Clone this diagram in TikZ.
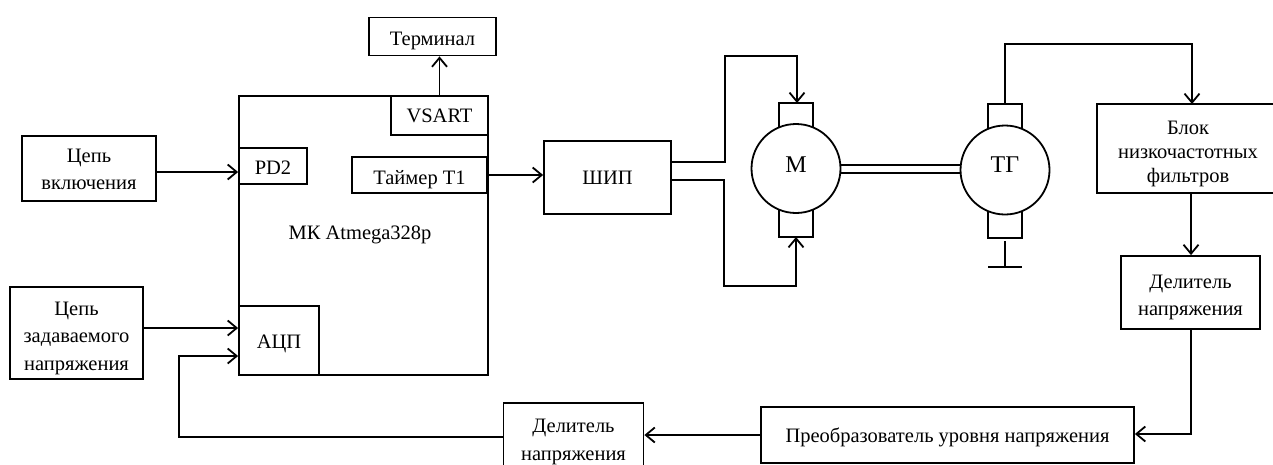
\documentclass[tikz,border=0pt]{standalone}
\usepackage{fontspec}
\setmainfont{Liberation Serif}
\usetikzlibrary{arrows.meta}
\tikzset{
  x=1pt,y=-1pt,
  blk/.style={draw,line width=1.8pt,minimum width=0pt,minimum height=0pt,inner sep=0pt,align=center,font=\fontsize{20.5}{27.5}\selectfont},
  wire/.style={line width=1.8pt},
  arr/.style={wire,-{Straight Barb[length=9pt,width=15pt,line width=1.8pt]}},
}
\newcommand{\lowered}[2]{\raisebox{-#1pt}[\height][\depth]{\begin{tabular}{@{}c@{}}#2\end{tabular}}}
\begin{document}
\begin{tikzpicture}
\useasboundingbox[clip] (0,0) rectangle (1273,464);
% main controller
\node[blk,minimum width=249pt,minimum height=279pt] (mk) at (363.5,235.5) {};
\node[font=\fontsize{20.5}{24}\selectfont] (mkl) at (360,235) {МК Atmega328p};
\node[blk,minimum width=97pt,minimum height=39pt] (vsart) at (439.5,115.5) {VSART};
\node[blk,minimum width=68pt,minimum height=36pt] (pd) at (273,166) {\lowered{3}{PD2}};
\node[blk,minimum width=135pt,minimum height=36pt] (tim) at (419.5,175) {\lowered{4}{Таймер Т1}};
\node[blk,minimum width=80pt,minimum height=69pt] (adc) at (279,340.5) {\lowered{2}{АЦП}};
\node[blk,minimum width=127pt,minimum height=38pt] (term) at (432.5,36.5) {\lowered{3}{Терминал}};
\node[blk,minimum width=134pt,minimum height=65pt] (en) at (89,168.5) {\lowered{2}{Цепь\\включения}};
\node[blk,minimum width=133pt,minimum height=92pt] (set) at (76.5,333) {\lowered{4}{Цепь\\задаваемого\\напряжения}};
\node[blk,minimum width=127pt,minimum height=73pt] (pwm) at (607.5,177.5) {\lowered{1}{ШИП}};
% motor
\node[blk,minimum width=34pt,minimum height=40pt] (mt) at (796,123) {};
\node[blk,minimum width=34pt,minimum height=40pt] (mb) at (796,217) {};
\node[blk,circle,fill=white,minimum size=89pt,font=\fontsize{24}{28}\selectfont] (m) at (796,168.5) {\lowered{-2}{М}};
\node[blk,minimum width=34pt,minimum height=40pt] (gt) at (1005,124) {};
\node[blk,minimum width=34pt,minimum height=40pt] (gb) at (1005,218) {};
\node[blk,circle,fill=white,minimum size=89pt,font=\fontsize{24}{28}\selectfont] (g) at (1005,170) {\lowered{-3}{ТГ}};
\coordinate (gndtop) at (1005,241);
\coordinate (gnd) at (1005,267);
\coordinate (gndl) at (988,267);
\coordinate (gndr) at (1022,267);
\draw[wire] (gndtop) -- (gnd);
\draw[wire] (gndl) -- (gndr);
\draw[wire] (m.east |- 0,165) -- (g.west |- 0,165);
\draw[wire] (m.east |- 0,173) -- (g.west |- 0,173);
% lower right blocks
\node[blk,minimum width=182pt,minimum height=89pt,font=\fontsize{20.5}{24}\selectfont] (flt) at (1188,148.5) {\lowered{5}{Блок\\низкочастотных\\фильтров}};
\node[blk,minimum width=139pt,minimum height=73pt] (dv1) at (1190.5,292.5) {\lowered{4}{Делитель\\напряжения}};
\node[blk,minimum width=373pt,minimum height=56pt] (conv) at (947.5,435) {\lowered{2}{Преобразователь уровня напряжения}};
\node[blk,minimum width=140pt,minimum height=70pt] (dv2) at (573.5,438) {\lowered{3}{Делитель\\напряжения}};
% connectors
\draw[arr] (vsart.north) -- (vsart.north |- term.south);
\draw[arr] (en.east |- 0,172) -- (pd.west |- 0,172);
\draw[arr] (tim.east) -- (pwm.west |- tim.east);
\draw[arr] (set.east |- 0,328) -- (adc.west |- 0,328);
\draw[arr] (dv2.west |- 0,437) -- (179,437) -- (179,356) -- (adc.west |- 0,356);
\draw[arr] (pwm.east |- 0,162) -- (725,162) -- (725,56) -- (797,56) -- (797,103);
\draw[arr] (pwm.east |- 0,180) -- (724,180) -- (724,286) -- (796,286) -- (796,237);
\draw[arr] (gt.north) -- (1005,44) -- (1192,44) -- (1192,104);
\draw[arr] (flt.south -| 1191,0) -- (dv1.north -| 1191,0);
\draw[arr] (dv1.south -| 1191,0) -- (1191,434) -- (conv.east |- 0,434);
\draw[arr] (conv.west) -- (dv2.east |- conv.west);
\end{tikzpicture}
\end{document}
